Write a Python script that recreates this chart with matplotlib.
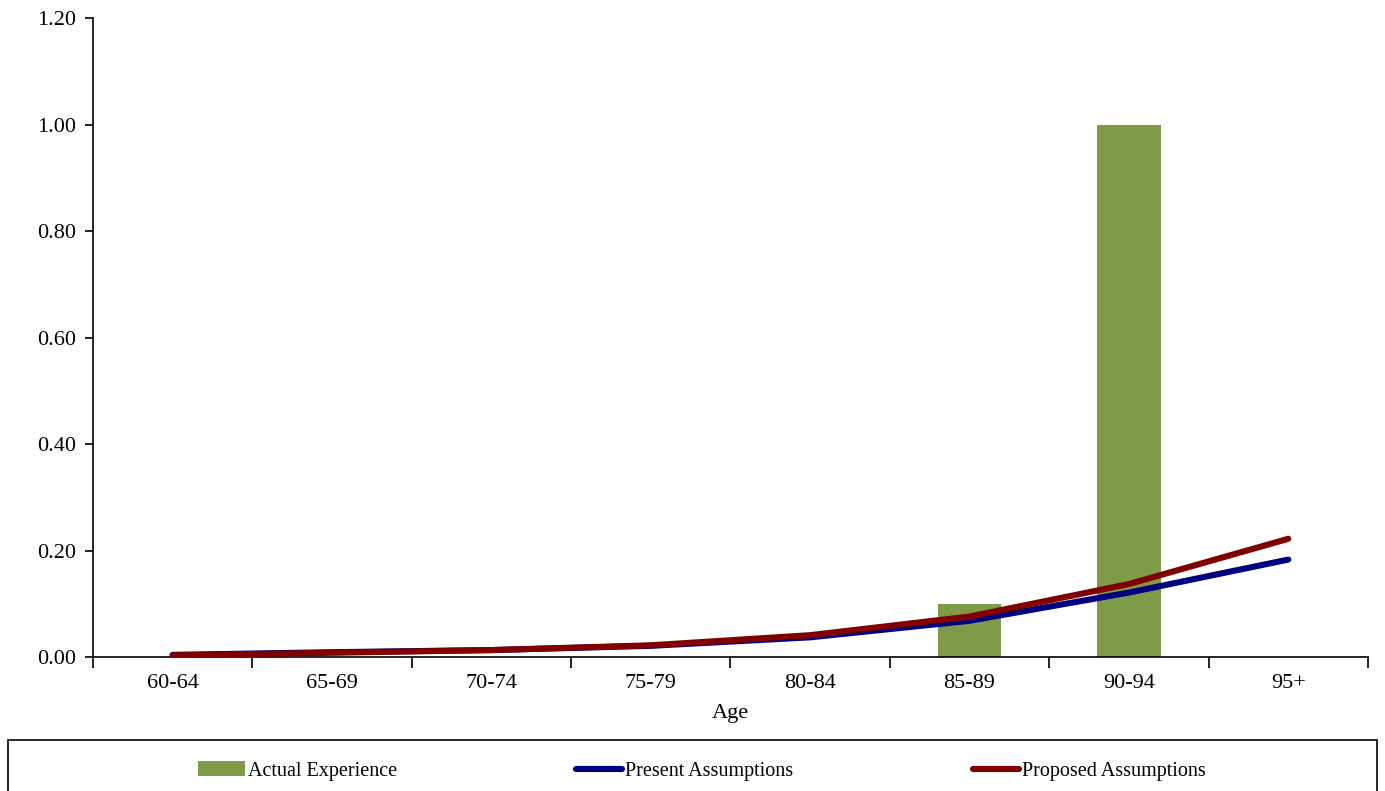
import numpy as np
import matplotlib
matplotlib.use("Agg")
from matplotlib import pyplot as plt
from matplotlib.patches import Rectangle

plt.rcParams['font.family'] = ['Liberation Serif', 'DejaVu Serif']

ages = ["60-64", "65-69", "70-74", "75-79", "80-84", "85-89", "90-94", "95+"]
actual = [0.0, 0.0, 0.0, 0.0, 0.0, 0.10, 1.00, np.nan]
present = [0.004, 0.009, 0.013, 0.021, 0.037, 0.068, 0.121, 0.183]
proposed = [0.003, 0.008, 0.013, 0.022, 0.041, 0.076, 0.137, 0.222]

green = "#809b48"
navy = "#000080"
maroon = "#800000"

fig = plt.figure(figsize=(13.85, 7.91), dpi=100)
ax = fig.add_axes([0.0671, 0.1694, 0.9206, 0.8078])

x = np.arange(len(ages))
bars = ax.bar(x, actual, width=0.4, color=green, label="Actual Experience", zorder=2)
l1, = ax.plot(x, present, color=navy, lw=4.4, solid_capstyle='round',
              label="Present Assumptions", zorder=3)
l2, = ax.plot(x, proposed, color=maroon, lw=4.4, solid_capstyle='round',
              label="Proposed Assumptions", zorder=4)

ax.set_xlim(-0.5, len(ages) - 0.5)
ax.set_ylim(0, 1.2)
yt = np.arange(0, 1.21, 0.2)
ax.set_yticks(yt)
ax.set_yticklabels(["%.2f" % v for v in yt], fontsize=16)

# category labels centred, tick marks between categories
ax.set_xticks(x)
ax.set_xticklabels(ages, fontsize=16)
ax.tick_params(axis='x', which='major', length=0, pad=12)
ax.set_xticks(np.arange(-0.5, len(ages), 1.0), minor=True)
ax.tick_params(axis='x', which='minor', length=8, width=1.2, direction='out')
ax.tick_params(axis='y', length=6, width=1.2, direction='out', pad=6)

ax.set_xlabel("Age", fontsize=16, labelpad=8)

for s in ['top', 'right']:
    ax.spines[s].set_visible(False)
for s in ['left', 'bottom']:
    ax.spines[s].set_linewidth(1.2)

# legend box along the bottom
fig.patches.append(Rectangle((8 / 1385, -0.01), 1369 / 1385, 0.0745,
                             transform=fig.transFigure, fill=False,
                             edgecolor='black', lw=1.2))
fig.legend([bars, l1, l2],
           ["Actual Experience", "Present Assumptions", "Proposed Assumptions"],
           loc='center', bbox_to_anchor=(702 / 1385, 1 - 771 / 791), ncol=3,
           frameon=False, fontsize=14.5, columnspacing=8.9, handlelength=2.3,
           handletextpad=0.15)

fig.savefig("out.png", dpi=100)
